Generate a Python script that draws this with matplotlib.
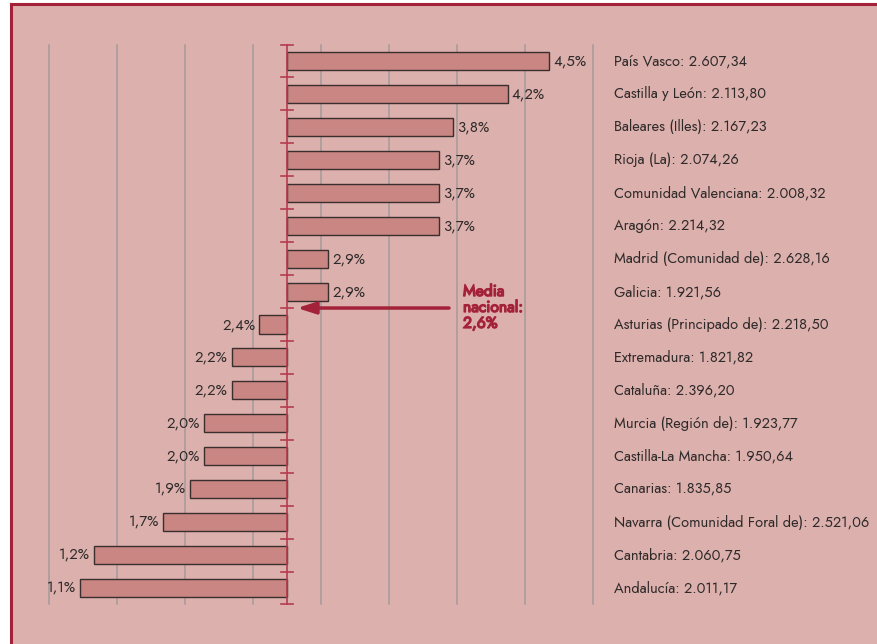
import matplotlib
matplotlib.use("Agg")
import matplotlib.pyplot as plt
from matplotlib.lines import Line2D
import matplotlib.patheffects as pe

# Regional growth rates (%) and average amounts per region
regions = [
    "País Vasco", "Castilla y León", "Baleares (Illes)", "Rioja (La)",
    "Comunidad Valenciana", "Aragón", "Madrid (Comunidad de)", "Galicia",
    "Asturias (Principado de)", "Extremadura", "Cataluña", "Murcia (Región de)",
    "Castilla-La Mancha", "Canarias", "Navarra (Comunidad Foral de)",
    "Cantabria", "Andalucía",
]
growth = [4.5, 4.2, 3.8, 3.7, 3.7, 3.7, 2.9, 2.9, 2.4, 2.2, 2.2, 2.0, 2.0,
          1.9, 1.7, 1.2, 1.1]
amounts = ["2.607,34", "2.113,80", "2.167,23", "2.074,26", "2.008,32",
           "2.214,32", "2.628,16", "1.921,56", "2.218,50", "1.821,82",
           "2.396,20", "1.923,77", "1.950,64", "1.835,85", "2.521,06",
           "2.060,75", "2.011,17"]
national_mean = 2.6
grid_values = [0.85, 1.35, 1.85, 2.35, 2.85, 3.35, 3.85, 4.35, 4.85]

BG = "#dcb0ac"
BAR = "#c98682"
RED = "#a3223a"
TICK_RED = "#b43c4e"
TEXT = "#2e2a2a"
GRID = "#a39b9b"

plt.rcParams["font.family"] = ["Jost", "DejaVu Sans"]

W, H = 877, 644
fig = plt.figure(figsize=(W / 100, H / 100), dpi=100, facecolor="white")

# panel area inside the frame (pixels)
left_px, top_px = 11, 4
ax = fig.add_axes([left_px / W, 0, (W - left_px) / W, (H - top_px) / H])
ax.set_facecolor(BG)
for s in ax.spines.values():
    s.set_visible(False)
ax.set_xticks([])
ax.set_yticks([])

px_per_unit = 138.0
center_px = 287.0
ax.set_xlim(national_mean - (center_px - left_px) / px_per_unit,
            national_mean + (W - center_px) / px_per_unit)
pitch = 32.94
first_px = 61.0
ax.set_ylim(len(regions) - 1 + (H - 588) / pitch, -(first_px - top_px) / pitch)

n = len(regions)
ys = list(range(n))

# vertical grid lines
grid_scale = 136.0 / px_per_unit
for g in grid_values:
    gx = national_mean + (g - national_mean) * grid_scale
    ax.plot([gx, gx], [-0.5, n - 0.5], color=GRID, lw=1.1, zorder=1)

# bars diverging from the national mean
ax.barh(ys, [v - national_mean for v in growth], left=national_mean,
        height=0.55, color=BAR, edgecolor="#3a2e2e", linewidth=1.0, zorder=3)

# central axis with separator ticks
ax.plot([national_mean, national_mean], [-0.5, n - 0.5], color=TICK_RED,
        lw=1.2, zorder=4)
tick_half = 6 / px_per_unit
for i in range(n + 1):
    ax.plot([national_mean - tick_half, national_mean + tick_half],
            [i - 0.5, i - 0.5], color=TICK_RED, lw=1.2, zorder=4)

# value labels
gap = 4 / px_per_unit
for y, v in zip(ys, growth):
    txt = f"{v:.1f}%".replace(".", ",")
    if v >= national_mean:
        ax.text(v + gap, y, txt, ha="left", va="center", fontsize=10.8,
                color=TEXT, zorder=5)
    else:
        ax.text(v - gap, y, txt, ha="right", va="center", fontsize=10.8,
                color=TEXT, zorder=5)

# region labels
lab_x = (614 - left_px) / (W - left_px)
for y, r, a in zip(ys, regions, amounts):
    ax.text(lab_x, y, f"{r}: {a}", ha="left", va="center",
            fontsize=10.5, color=TEXT, transform=ax.get_yaxis_transform())

# national mean marker
arrow_y = 7.5
ax.annotate("", xy=(national_mean + 10 / px_per_unit, arrow_y),
            xytext=(national_mean + 162 / px_per_unit, arrow_y),
            arrowprops=dict(arrowstyle="-|>,head_length=1.1,head_width=0.35",
                            color=RED, lw=2.5, shrinkA=0, shrinkB=0),
            zorder=6)
ax.text(national_mean + 176 / px_per_unit, 6.74, "Media\nnacional:\n2,6%",
        ha="left", va="top", fontsize=11.3, color=RED,
        linespacing=0.92, zorder=6,
        path_effects=[pe.withStroke(linewidth=1.0, foreground=RED)])

# frame: top and left edges
fig.add_artist(Line2D([left_px / W, 1], [1 - top_px / H, 1 - top_px / H],
                      transform=fig.transFigure, color=RED, lw=2.2))
fig.add_artist(Line2D([left_px / W, left_px / W], [0, 1 - top_px / H],
                      transform=fig.transFigure, color=RED, lw=2.2))

fig.savefig("out.png", dpi=100, facecolor="white")
